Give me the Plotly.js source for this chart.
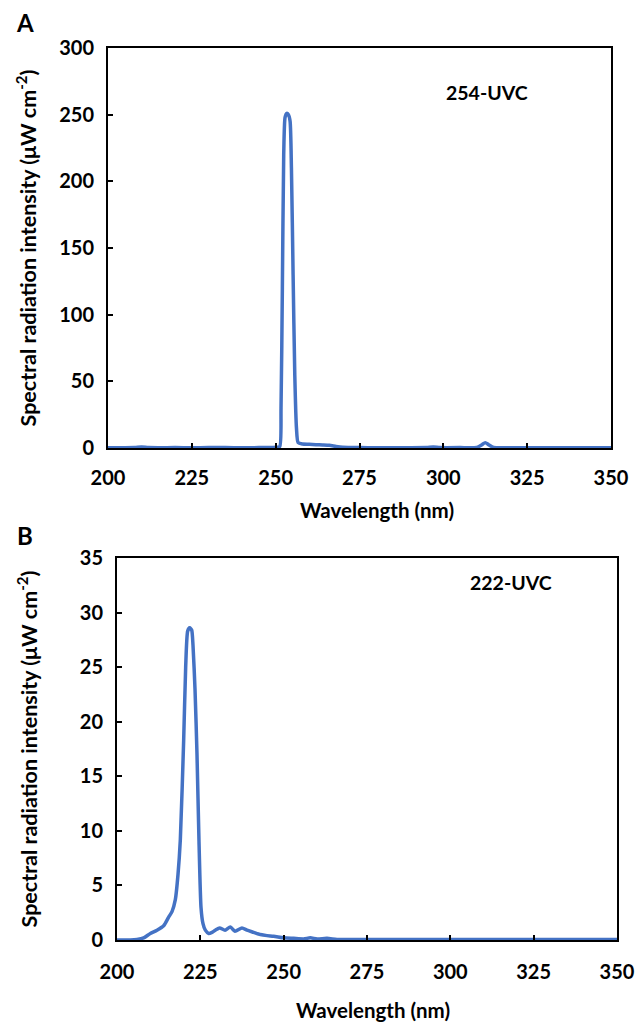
<!DOCTYPE html>
<html>
<head>
<meta charset="utf-8">
<script src="https://cdn.plot.ly/plotly-3.0.1.min.js"></script>
<style>html,body{margin:0;padding:0;background:#fff}#chart{width:643px;height:1022px}</style>
</head>
<body>
<div id="chart"></div>
<script>
// Panel A: 254-UVC lamp
const wavelengthA = [200, 205, 208, 210, 212, 215, 220, 225, 230, 235, 240, 245, 248, 250, 251.2, 251.6, 252, 252.4, 252.8, 253.3, 253.8, 254.3, 254.7, 255.2, 255.7, 256.2, 256.7, 258, 260, 262, 264, 266, 268, 270, 275, 280, 285, 290, 295, 297, 299, 305, 310, 311.5, 312.5, 313.5, 315, 320, 330, 340, 350];
const intensityA  = [0.2, 0.2, 0.3, 0.8, 0.3, 0.2, 0.3, 0.2, 0.3, 0.3, 0.2, 0.3, 0.4, 0.6, 1, 30, 120, 220, 248, 251, 250, 245, 210, 130, 55, 15, 4, 3, 2.8, 2.5, 2.3, 2, 1.2, 0.6, 0.3, 0.2, 0.2, 0.2, 0.3, 0.7, 0.3, 0.3, 0.5, 2.5, 4, 2.5, 0.4, 0.2, 0.2, 0.2, 0.2];

// Panel B: 222-UVC lamp
const wavelengthB = [200, 204, 206, 208, 210, 212, 214, 215.5, 216.5, 217.5, 218.3, 219, 220, 220.6, 221.2, 221.8, 222.4, 222.8, 223.4, 224, 224.6, 225.2, 225.8, 226.5, 227.5, 228.5, 229.5, 230.8, 232.4, 234, 235.4, 237.5, 239, 241, 243, 245, 247, 250, 253, 256, 258, 260, 263, 266, 270, 280, 290, 300, 310, 320, 330, 340, 350];
const intensityB  = [0, 0, 0.05, 0.2, 0.6, 0.9, 1.3, 2.1, 2.6, 3.7, 6, 9.2, 18.3, 25, 28.3, 28.6, 28.4, 27, 23, 17, 9, 3, 1.5, 0.9, 0.6, 0.7, 0.9, 1.1, 0.9, 1.2, 0.8, 1.1, 0.9, 0.7, 0.5, 0.4, 0.35, 0.2, 0.15, 0.1, 0.2, 0.1, 0.15, 0.05, 0.05, 0.05, 0.05, 0.05, 0.05, 0.05, 0.05, 0.05, 0.05];

const xTicks = [200, 225, 250, 275, 300, 325, 350];
const yTicksA = [0, 50, 100, 150, 200, 250, 300];
const yTicksB = [0, 5, 10, 15, 20, 25, 30, 35];

const W = 643, H = 1022;
const px = v => v / W;
const py = v => 1 - v / H;

const FONT = 'Lato, "Open Sans", sans-serif';
const lineColor = '#4472C4';
const yTitle = 'Spectral radiation intensity (μW cm<sup>-2</sup>)';

const traces = [
  {x: wavelengthA, y: intensityA, type: 'scatter', mode: 'lines', line: {color: lineColor, width: 3.5, shape: 'spline', smoothing: 0.6}, xaxis: 'x', yaxis: 'y'},
  {x: wavelengthB, y: intensityB, type: 'scatter', mode: 'lines', line: {color: lineColor, width: 3.5, shape: 'spline', smoothing: 0.6}, xaxis: 'x2', yaxis: 'y2'}
];

const tf = {family: FONT, size: 20, color: '#000', weight: 'bold'};
const axisCommon = {
  showline: true, mirror: true, linecolor: '#000', linewidth: 2,
  ticks: 'inside', ticklen: 5, tickwidth: 2, tickcolor: '#000',
  showgrid: false, zeroline: false,
  tickfont: tf
};
const ytitleFont = {family: FONT, size: 21.5, color: '#000', weight: 'bold'};

const layout = {
  width: W, height: H,
  margin: {l: 0, r: 0, t: 0, b: 0},
  paper_bgcolor: '#fff', plot_bgcolor: '#fff',
  showlegend: false,
  xaxis: Object.assign({}, axisCommon, {domain: [px(108), px(611)], range: [200, 350], tickvals: xTicks, anchor: 'y', ticklabelstandoff: 11}),
  yaxis: Object.assign({}, axisCommon, {domain: [py(448), py(48)], range: [0, 300], tickvals: yTicksA, anchor: 'x', ticklabelstandoff: 8,
    title: {text: yTitle, font: ytitleFont, standoff: 17}}),
  xaxis2: Object.assign({}, axisCommon, {domain: [px(117), px(617)], range: [200, 350], tickvals: xTicks, anchor: 'y2', ticklabelstandoff: 13}),
  yaxis2: Object.assign({}, axisCommon, {domain: [py(940), py(558)], range: [0, 35], tickvals: yTicksB, anchor: 'x2', ticklabelstandoff: 8,
    title: {text: yTitle, font: ytitleFont, standoff: 36}}),
  annotations: [
    {text: 'A', x: px(25), y: py(22), xref: 'paper', yref: 'paper', xanchor: 'center', yanchor: 'middle', showarrow: false, font: {family: FONT, size: 24, color: '#000', weight: 'bold'}},
    {text: 'B', x: px(25), y: py(535), xref: 'paper', yref: 'paper', xanchor: 'center', yanchor: 'middle', showarrow: false, font: {family: FONT, size: 24, color: '#000', weight: 'bold'}},
    {text: '254-UVC', x: px(487), y: py(93), xref: 'paper', yref: 'paper', xanchor: 'center', yanchor: 'middle', showarrow: false, font: {family: FONT, size: 19.5, color: '#000', weight: 'bold'}},
    {text: '222-UVC', x: px(511), y: py(582), xref: 'paper', yref: 'paper', xanchor: 'center', yanchor: 'middle', showarrow: false, font: {family: FONT, size: 19.5, color: '#000', weight: 'bold'}},
    {text: 'Wavelength (nm)', x: px(377), y: py(510), xref: 'paper', yref: 'paper', xanchor: 'center', yanchor: 'middle', showarrow: false, font: {family: FONT, size: 20.5, color: '#000', weight: 'bold'}},
    {text: 'Wavelength (nm)', x: px(373), y: py(1010), xref: 'paper', yref: 'paper', xanchor: 'center', yanchor: 'middle', showarrow: false, font: {family: FONT, size: 20.5, color: '#000', weight: 'bold'}}
  ]
};

Plotly.newPlot('chart', traces, layout, {displayModeBar: false, staticPlot: true});
</script>
</body>
</html>
